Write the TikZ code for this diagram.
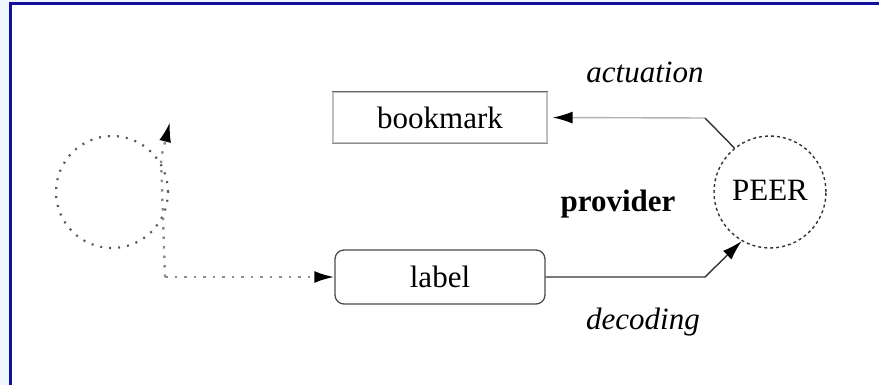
\documentclass[tikz,border=0pt]{standalone}
\usepackage{fontspec}
\setmainfont{Liberation Serif}
\usetikzlibrary{arrows.meta}
\definecolor{framebl}{HTML}{10109A}
\definecolor{lightbl}{HTML}{EEF6FF}
\begin{document}
\begin{tikzpicture}[x=1pt,y=-1pt,
  txt/.style={font=\fontsize{31}{36}\selectfont, inner sep=0pt},
  boxnode/.style={draw=black!25, line width=1.3pt, minimum width=214pt, minimum height=51pt, font=\fontsize{31}{36}\selectfont, inner sep=0pt},
  peernode/.style={circle, draw=black!80, dashed, line width=1.4pt, minimum size=112pt, font=\fontsize{31}{36}\selectfont, inner sep=0pt},
  loopnode/.style={circle, draw=black!65, line width=2.2pt, dash pattern=on 2pt off 7pt, minimum size=112pt, inner sep=0pt},
  conn/.style={line width=1.4pt, draw=black!80, -{Latex[length=20pt,width=12pt,color=black]}},
  dotconn/.style={line width=2.4pt, draw=black!45, dash pattern=on 2.5pt off 7pt, -{Latex[length=20pt,width=12pt,color=black]}}
]
\useasboundingbox (0,0) rectangle (879,385);
\fill[lightbl] (0,0) rectangle (9,385);
\fill[lightbl] (0,0) rectangle (879,2);
\draw[framebl, line width=3pt] (10.5,385) -- (10.5,4) -- (879,4);

\node[boxnode] (bookmark) at (440,117.5) {bookmark};
\draw[black!60, line width=1.5pt] (bookmark.north west) -- (bookmark.north east);
\draw[black!45, line width=1.5pt] (bookmark.south west) -- (bookmark.south east);
\node[boxnode, draw=black!70, rounded corners=9pt, minimum width=210pt, minimum height=54pt] (label) at (440,277) {label};
\node[peernode] (peer) at (770,192) {\raisebox{4pt}{PEER}};
\node[loopnode] (loop) at (112,192) {};

\node[txt, font=\fontsize{31}{36}\selectfont\itshape] (actuation) at (645,72) {actuation};
\node[txt, font=\fontsize{31}{36}\selectfont\bfseries] (provider) at (618,204) {provider};
\node[txt, font=\fontsize{31}{36}\selectfont\itshape] (decoding) at (643,322) {decoding};

\coordinate (b1) at (705,118);
\coordinate (b2) at (705,277);
\draw[conn, draw=black!30, shorten >=5pt] (b1) -- (bookmark.east);
\draw[conn, -] (peer.129) -- (b1);
\draw[conn] (label.east) -- (b2) -- (peer.240);

\coordinate (c) at (165,277);
\coordinate (cv) at (161,158);
\coordinate (t) at (170,122);
\draw[dotconn] (c) -- (cv) -- (t);
\draw[dotconn] (c) -- (label.west);
\end{tikzpicture}
\end{document}
